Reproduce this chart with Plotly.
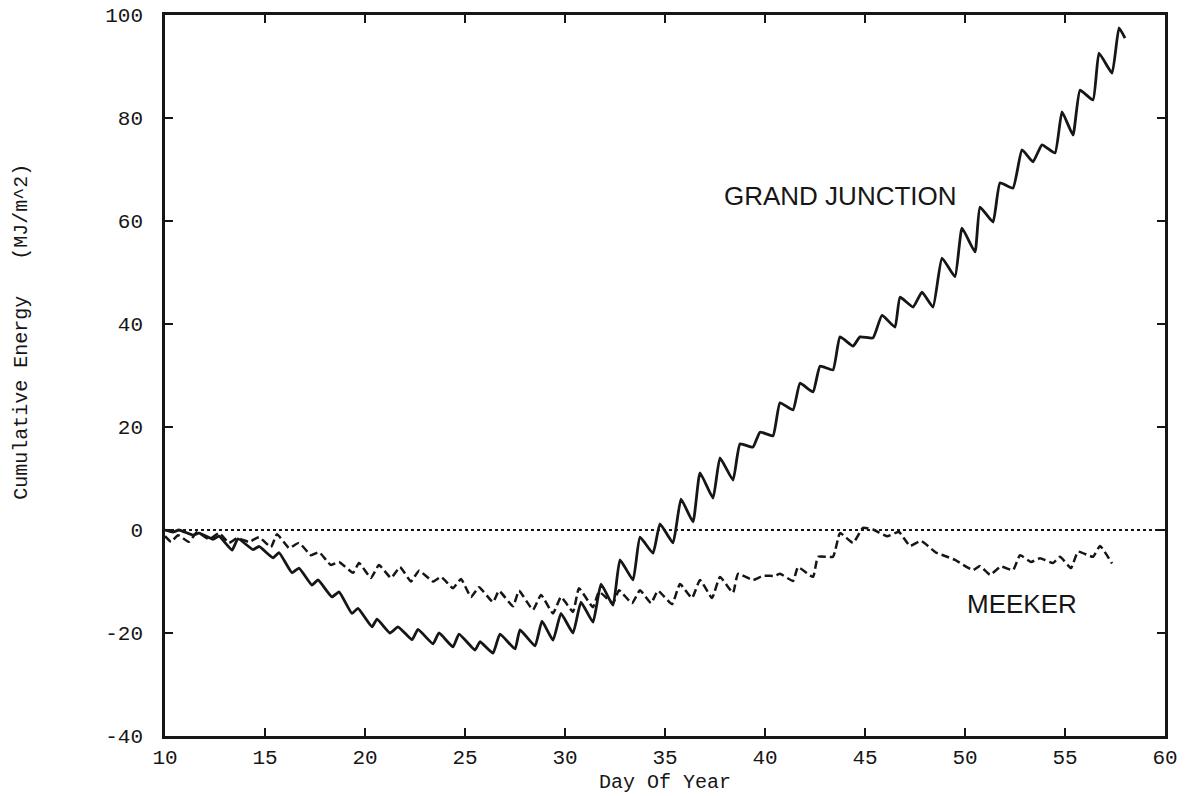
import plotly.graph_objects as go

# Cumulative net energy, Grand Junction (day of year, MJ/m^2)
gj_day = [10.0, 10.4, 10.7, 11.4, 11.7, 12.4, 12.7, 13.35, 13.65, 14.4, 14.7, 15.4, 15.7,
          16.35, 16.7, 17.35, 17.65, 18.35, 18.7, 19.35, 19.65, 20.35, 20.6, 21.25, 21.65,
          22.35, 22.65, 23.4, 23.7, 24.4, 24.7, 25.5, 25.75, 26.4, 26.75, 27.5, 27.75,
          28.5, 28.85, 29.4, 29.8, 30.4, 30.8, 31.4, 31.8, 32.4, 32.75, 33.4, 33.75,
          34.4, 34.75, 35.4, 35.8, 36.4, 36.75, 37.4, 37.75, 38.4, 38.75, 39.4, 39.75,
          40.4, 40.75, 41.4, 41.75, 42.4, 42.75, 43.4, 43.75, 44.4, 44.75, 45.4, 45.85,
          46.5, 46.75, 47.4, 47.85, 48.4, 48.85, 49.5, 49.85, 50.5, 50.75, 51.4, 51.75,
          52.4, 52.85, 53.4, 53.85, 54.5, 54.85, 55.4, 55.75, 56.4, 56.7, 57.35, 57.7, 58.0]
gj_val = [0.0, -0.4, 0.0, -1.0, -0.6, -1.8, -1.2, -3.9, -1.7, -3.8, -3.2, -5.4, -4.4,
          -8.3, -7.4, -10.7, -9.7, -13.0, -12.0, -16.2, -15.2, -18.8, -17.3, -20.0, -18.8,
          -21.3, -19.3, -22.1, -20.0, -22.7, -20.2, -23.3, -21.7, -23.9, -20.2, -23.1, -19.4,
          -22.5, -17.7, -21.4, -16.2, -20.0, -14.0, -17.9, -10.5, -14.6, -5.8, -9.7, -1.4,
          -4.5, 1.2, -2.5, 6.0, 1.6, 11.1, 6.2, 14.0, 9.7, 16.7, 16.1, 19.0,
          18.3, 24.7, 23.3, 28.5, 26.8, 31.8, 31.1, 37.5, 35.7, 37.5, 37.3, 41.7,
          39.4, 45.2, 43.3, 46.2, 43.3, 52.8, 49.2, 58.6, 54.0, 62.7, 59.8, 67.4,
          66.4, 73.8, 71.5, 74.8, 73.2, 81.2, 76.7, 85.4, 83.5, 92.6, 88.7, 97.5, 95.5]

# Cumulative net energy, Meeker
mk_day = [10.0, 10.3, 10.65, 11.2, 11.6, 12.2, 12.7, 13.2, 13.6, 14.2, 14.7, 15.3, 15.6,
          16.2, 16.7, 17.3, 17.7, 18.3, 18.7, 19.4, 19.7, 20.3, 20.7, 21.3, 21.75,
          22.3, 22.7, 23.4, 23.8, 24.4, 24.8, 25.3, 25.7, 26.4, 26.7, 27.4, 27.7,
          28.4, 28.8, 29.4, 29.8, 30.4, 30.7, 31.4, 31.7, 32.4, 32.7, 33.35, 33.75,
          34.3, 34.65, 35.35, 35.75, 36.35, 36.75, 37.35, 37.75, 38.4, 38.65, 39.4, 39.9,
          40.5, 40.75, 41.4, 41.65, 42.4, 42.65, 43.4, 43.75, 44.4, 44.9, 45.4, 46.1,
          46.7, 47.25, 47.8, 48.55, 48.9, 49.5, 50.4, 50.75, 51.25, 51.8, 52.4, 52.75,
          53.3, 53.75, 54.4, 54.75, 55.3, 55.65, 56.4, 56.75, 57.35]
mk_val = [-1.2, -2.3, -1.0, -2.3, -0.4, -1.8, -0.6, -2.5, -1.6, -2.3, -1.4, -3.3, -0.8,
          -3.5, -2.5, -4.9, -4.3, -6.8, -6.2, -8.3, -6.4, -9.3, -6.8, -9.3, -7.2,
          -10.0, -7.9, -10.0, -9.1, -11.3, -9.5, -13.0, -11.1, -14.0, -11.8, -14.8, -11.8,
          -15.5, -12.6, -16.2, -13.0, -15.9, -11.3, -15.0, -12.0, -14.2, -11.7, -14.2, -11.7,
          -14.2, -11.8, -14.4, -10.5, -13.2, -9.7, -13.2, -9.1, -12.2, -8.5, -9.7, -8.9,
          -8.9, -8.5, -9.9, -7.2, -9.1, -5.2, -5.2, -0.6, -2.5, 0.4, 0.1, -1.2,
          -0.4, -3.1, -2.1, -4.4, -4.9, -5.8, -7.8, -7.0, -8.7, -7.1, -7.8, -4.9,
          -6.2, -5.5, -6.4, -5.2, -7.4, -4.2, -5.2, -3.1, -6.5]

x_ticks = [10, 15, 20, 25, 30, 35, 40, 45, 50, 55, 60]
y_ticks = [-40, -20, 0, 20, 40, 60, 80, 100]

ink = "#161616"
mono = "Liberation Mono, Courier New, monospace"
sans = "Liberation Sans, Arial, sans-serif"

fig = go.Figure()

fig.add_trace(go.Scatter(
    x=mk_day, y=mk_val, mode="lines", name="MEEKER",
    line=dict(color=ink, width=2.5, dash="8px,4px", shape="spline", smoothing=0.4),
))
fig.add_trace(go.Scatter(
    x=gj_day, y=gj_val, mode="lines", name="GRAND JUNCTION",
    line=dict(color=ink, width=2.8, shape="spline", smoothing=0.4),
))

# zero reference line
fig.add_shape(type="line", xref="paper", x0=0, x1=1, yref="y", y0=0, y1=0,
              line=dict(color=ink, width=2, dash="dot"), layer="below")

fig.add_annotation(x=43.75, y=64.9, text="GRAND JUNCTION", showarrow=False,
                   font=dict(family=sans, size=26, color=ink))
fig.add_annotation(x=52.85, y=-14.4, text="MEEKER", showarrow=False,
                   font=dict(family=sans, size=26, color=ink))

# axis titles
fig.add_annotation(xref="paper", x=-0.157, yref="y", y=38.4,
                   text="Cumulative Energy   (MJ/m^2)", textangle=-90, showarrow=False,
                   font=dict(family=mono, size=20, color=ink))
fig.add_annotation(xref="x", x=35, yref="paper", y=-0.064, yanchor="middle",
                   text="Day Of Year", showarrow=False,
                   font=dict(family=mono, size=20, color=ink))

axis_common = dict(
    showline=True, linewidth=2.5, linecolor=ink, mirror="ticks",
    ticks="inside", ticklen=8, tickwidth=2, tickcolor=ink,
    showgrid=False, zeroline=False, automargin=False,
    tickfont=dict(family=mono, size=21, color=ink),
)

fig.update_xaxes(range=[10, 60], tickvals=x_ticks, ticktext=[str(v) for v in x_ticks],
                 ticklabelstandoff=0, **axis_common)
fig.update_yaxes(range=[-40, 100], tickvals=y_ticks, ticktext=[str(v) for v in y_ticks],
                 ticklabelstandoff=15, **axis_common)

fig.update_layout(
    width=1188, height=796,
    margin=dict(l=165, r=23, t=15, b=60),
    paper_bgcolor="white", plot_bgcolor="white",
    showlegend=False,
)

fig.write_html("out.html")
